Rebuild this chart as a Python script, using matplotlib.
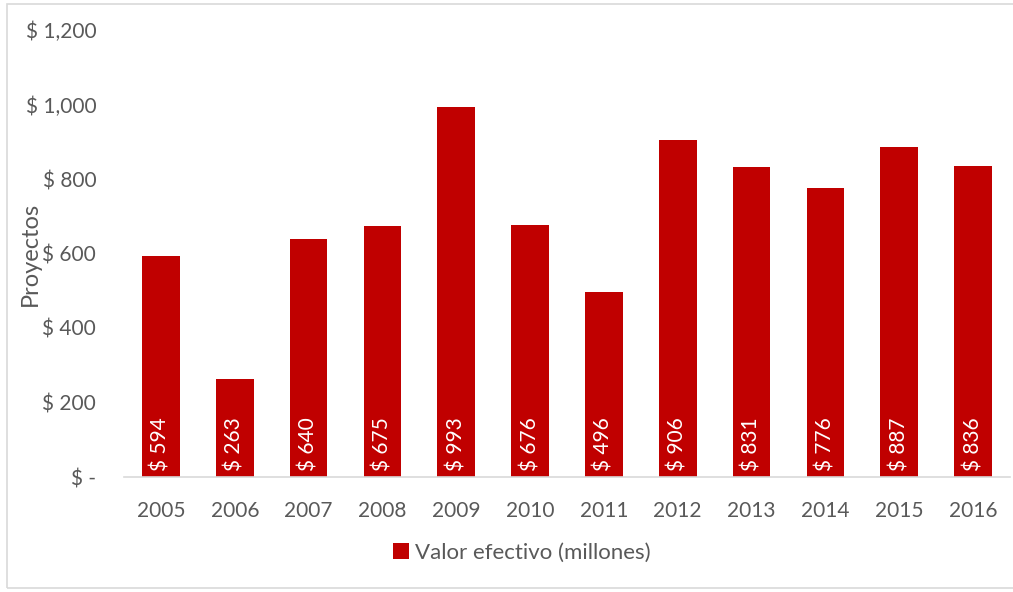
import matplotlib
matplotlib.use("Agg")
import matplotlib.pyplot as plt
from matplotlib.patches import Rectangle

years = ["2005", "2006", "2007", "2008", "2009", "2010", "2011", "2012", "2013", "2014", "2015", "2016"]
values = [594, 263, 640, 675, 993, 676, 496, 906, 831, 776, 887, 836]
yticks = [0, 200, 400, 600, 800, 1000, 1200]
ytick_labels = ["$ -", "$ 200", "$ 400", "$ 600", "$ 800", "$ 1,000", "$ 1,200"]
series_name = "Valor efectivo (millones)"

plt.rcParams['font.family'] = ['Lato', 'DejaVu Sans']
gray = "#595959"
red = "#C00000"

fig = plt.figure(figsize=(10.13, 5.92), dpi=100)
fig.patches.append(Rectangle((7/1013, 4/592), 1.2, 584/592, transform=fig.transFigure,
                             fill=False, edgecolor="#D9D9D9", linewidth=1.2))

ax = fig.add_axes([124/1013, 1-477/592, (1010-124)/1013, (477-30)/592])
x = list(range(len(years)))
bars = ax.bar(x, values, width=0.51, color=red, label=series_name, zorder=2)

for xi, v in zip(x, values):
    ax.text(xi, 16, f"$ {v}", rotation=90, ha="center", va="bottom",
            color="white", fontsize=15)

ax.set_xlim(-0.5, len(years) - 0.5)
ax.set_ylim(0, 1200)
ax.set_yticks(yticks)
ax.set_yticklabels(ytick_labels)
ax.set_xticks(x)
ax.set_xticklabels(years)
ax.tick_params(axis="both", length=0, colors=gray, labelsize=15)
ax.tick_params(axis="y", pad=20)
ax.tick_params(axis="x", pad=17)
for s in ["top", "right", "left"]:
    ax.spines[s].set_visible(False)
ax.spines["bottom"].set_color("#D9D9D9")
ax.spines["bottom"].set_linewidth(1.2)
ax.set_ylabel("Proyectos", color=gray, fontsize=17)
ax.yaxis.set_label_coords(-0.094, 0.5)

leg = fig.legend(handles=[bars], labels=[series_name], loc="center",
                 bbox_to_anchor=(522/1013, 1-553/592), frameon=False,
                 fontsize=16, handlelength=0.7, handleheight=0.7, handletextpad=0.3)
for t in leg.get_texts():
    t.set_color(gray)

fig.savefig("out.png", dpi=100)
